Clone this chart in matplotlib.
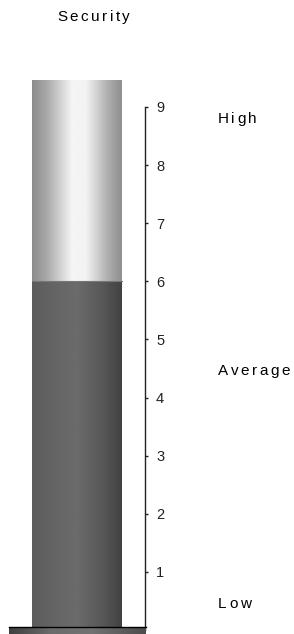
import matplotlib
matplotlib.use("Agg")
import matplotlib.pyplot as plt
import numpy as np
from matplotlib.colors import LinearSegmentedColormap

title = "Security"
value = 6
scale_max = 9
tick_values = [1, 2, 3, 4, 5, 6, 7, 8, 9]
band_labels = ["High", "Average", "Low"]
band_values = [8.8, 4.45, 0.45]

plt.rcParams['font.family'] = ['Liberation Sans', 'DejaVu Sans']

W, H = 294, 634
fig = plt.figure(figsize=(W / 100, H / 100), dpi=100)
renderer = fig.canvas.get_renderer()


def spaced_text(x_px, y_px, s, gap=2.5, size=11):
    # текст с разрядкой, x_px - левый край в пикселях, y_px - сверху
    x = x_px
    for ch in s:
        t = fig.text(x / W, 1 - y_px / H, ch, ha='left', va='center', fontsize=size)
        w = t.get_window_extent(renderer).width
        x += w + gap


# axes: x in pixels 0..145, right spine is the scale line
ax = fig.add_axes([0, 4 / H, 145 / W, 523 / H])
ax.set_xlim(0, 145)
ax.set_ylim(0, scale_max)
for s in ['left', 'top', 'bottom']:
    ax.spines[s].set_visible(False)
ax.spines['right'].set_linewidth(1.0)
ax.spines['right'].set_color('#222222')
ax.yaxis.tick_right()
ax.set_yticks(tick_values)
ax.set_yticklabels([str(t) for t in tick_values])
ax.tick_params(axis='y', direction='out', length=2, width=1, pad=6,
               labelsize=10.5, colors='#222222')
ax.set_xticks([])

# cylinder shading
xs = np.linspace(0, 1, 200)
light = np.interp(xs, [0, 0.15, 0.45, 0.6, 0.85, 1], [0.55, 0.65, 0.96, 0.95, 0.68, 0.56])
dark = np.interp(xs, [0, 0.2, 0.5, 0.8, 1], [0.36, 0.39, 0.42, 0.34, 0.26])
gray = LinearSegmentedColormap.from_list('g', ['black', 'white'])

tube_top = 9.45
ax.imshow(light[None, :], extent=[32, 122, value, tube_top], aspect='auto',
          cmap=gray, vmin=0, vmax=1, clip_on=False, zorder=1)
ax.imshow(dark[None, :], extent=[32, 122, 0, value], aspect='auto',
          cmap=gray, vmin=0, vmax=1, clip_on=False, zorder=2)
ax.plot([32, 122], [value, value], color='#777777', lw=0.8, zorder=3)

# base plate
base = np.interp(xs, [0, 0.3, 0.6, 1], [0.25, 0.42, 0.45, 0.30])
ax.imshow(base[None, :], extent=[9, 146, -0.12, 0.05], aspect='auto',
          cmap=gray, vmin=0, vmax=1, clip_on=False, zorder=4)
ax.plot([9, 146], [0.05, 0.05], color='black', lw=1, clip_on=False, zorder=5)

ax.set_xlim(0, 145)
ax.set_ylim(0, scale_max)

spaced_text(57, 17, title)
ppu = 523 / scale_max
for lab, v in zip(band_labels, band_values):
    spaced_text(218, 630 - v * ppu, lab)

fig.savefig("out.png", dpi=100)
